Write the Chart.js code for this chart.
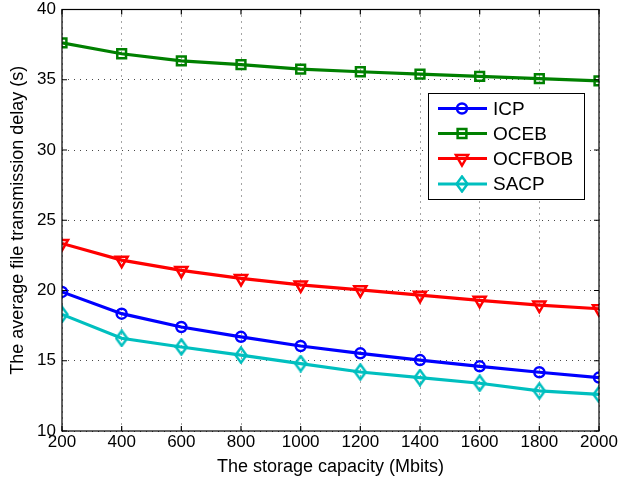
<!DOCTYPE html>
<html><head><meta charset="utf-8">
<script src="https://cdn.jsdelivr.net/npm/chart.js@4/dist/chart.umd.min.js"></script>
<style>html,body{margin:0;padding:0;background:#fff;}canvas{display:block;}</style>
</head><body>
<canvas id="c" width="621" height="487"></canvas>
<script>
const capacities = [200,400,600,800,1000,1200,1400,1600,1800,2000];
const icp    = [19.9,18.35,17.4,16.7,16.05,15.53,15.05,14.6,14.18,13.8];
const oceb   = [37.63,36.85,36.35,36.07,35.76,35.57,35.4,35.24,35.08,34.92];
const ocfbob = [23.35,22.16,21.43,20.86,20.4,20.05,19.67,19.3,18.96,18.7];
const sacp   = [18.3,16.6,15.98,15.4,14.8,14.2,13.8,13.4,12.85,12.6];
const xTicks = [200,400,600,800,1000,1200,1400,1600,1800,2000];
const yTicks = [10,15,20,25,30,35,40];

const FONT = '"Liberation Sans", Arial, sans-serif';

function diamond(color) {
  const c = document.createElement('canvas');
  c.width = 14; c.height = 18;
  const g = c.getContext('2d');
  g.strokeStyle = color; g.lineWidth = 2.5;
  g.beginPath(); g.moveTo(7, 1.5); g.lineTo(12.5, 9); g.lineTo(7, 16.5); g.lineTo(1.5, 9); g.closePath(); g.stroke();
  return c;
}

function ds(label, data, color, style, rot, r) {
  return {label, data: data.map((v,i)=>({x:capacities[i], y:v})), borderColor: color, backgroundColor: 'rgba(0,0,0,0)',
    borderWidth: 3.2, pointStyle: style, pointRotation: rot||0, pointRadius: r, pointBorderWidth: 2.5,
    pointBorderColor: color, pointBackgroundColor: 'rgba(0,0,0,0)', tension: 0};
}
const datasets = [
  ds('ICP', icp, '#0000ff', 'circle', 0, 5),
  ds('OCEB', oceb, '#008000', 'rect', 0, 6.2),
  ds('OCFBOB', ocfbob, '#ff0000', 'triangle', 180, 7),
  ds('SACP', sacp, '#00bfbf', diamond('#00bfbf'), 0, 7),
];

const frame = {
  id: 'frame',
  afterDraw(chart) {
    const ctx = chart.ctx, a = chart.chartArea;
    const xs = chart.scales.x, ys = chart.scales.y;
    ctx.save();
    ctx.strokeStyle = '#000'; ctx.lineWidth = 1.2;
    ctx.strokeRect(a.left, a.top, a.right - a.left, a.bottom - a.top);
    ctx.beginPath();
    const L = 5;
    xTicks.forEach(t => { const p = xs.getPixelForValue(t);
      ctx.moveTo(p, a.bottom); ctx.lineTo(p, a.bottom - L);
      ctx.moveTo(p, a.top); ctx.lineTo(p, a.top + L); });
    yTicks.forEach(t => { const p = ys.getPixelForValue(t);
      ctx.moveTo(a.left, p); ctx.lineTo(a.left + L, p);
      ctx.moveTo(a.right, p); ctx.lineTo(a.right - L, p); });
    ctx.stroke();
    // legend
    const bx = 428, by = 93, bw = 156, bh = 106;
    ctx.fillStyle = '#fff'; ctx.fillRect(bx, by, bw, bh);
    ctx.lineWidth = 1; ctx.strokeStyle = '#000'; ctx.strokeRect(bx+0.5, by+0.5, bw, bh);
    const rows = [108.5, 133.5, 158.5, 184];
    chart.data.datasets.forEach((d, i) => {
      const y = rows[i];
      ctx.strokeStyle = d.borderColor; ctx.lineWidth = 3.2;
      ctx.beginPath(); ctx.moveTo(438, y); ctx.lineTo(487, y); ctx.stroke();
      ctx.lineWidth = 2.5;
      ctx.fillStyle = 'rgba(0,0,0,0)';
      Chart.helpers.drawPoint(ctx, {pointStyle: d.pointStyle, rotation: d.pointRotation, radius: d.pointRadius, borderWidth: 2.5}, 462, y);
      ctx.fillStyle = '#000'; ctx.font = '19px ' + FONT; ctx.textBaseline = 'middle'; ctx.textAlign = 'left';
      ctx.fillText(d.label, 493, y + 1);
    });
    ctx.restore();
  }
};

new Chart(document.getElementById('c'), {
  type: 'line',
  data: { datasets },
  options: {
    responsive: false, animation: false,
    layout: { padding: { top: 8, right: 22, left: 0, bottom: 9 } },
    plugins: { legend: { display: false }, tooltip: { enabled: false } },
    scales: {
      x: { type: 'linear', min: 200, max: 2000,
        afterBuildTicks: s => { s.ticks = xTicks.map(v => ({value: v})); },
        afterFit: s => { s.height = 47; },
        grid: { color: 'rgba(40,40,40,0.85)', lineWidth: 1, drawTicks: false },
        border: { display: false, dash: [1,5] },
        ticks: { color: '#000', font: { family: FONT, size: 17 }, padding: 1, maxRotation: 0, autoSkip: false, callback: v => String(v) },
        title: { display: true, text: 'The storage capacity (Mbits)', color: '#000', font: { family: FONT, size: 18 }, padding: { top: 0, bottom: 0 } }
      },
      y: { type: 'linear', min: 10, max: 40,
        afterBuildTicks: s => { s.ticks = yTicks.map(v => ({value: v})); },
        afterFit: s => { s.width = 62; s.paddingTop = 0; s.paddingBottom = 0; },
        grid: { color: 'rgba(40,40,40,0.85)', lineWidth: 1, drawTicks: false },
        border: { display: false, dash: [1,5] },
        ticks: { color: '#000', font: { family: FONT, size: 17 }, padding: 6, callback: v => String(v) },
        title: { display: true, text: 'The average file transmission delay (s)', color: '#000', font: { family: FONT, size: 18 }, padding: { top: 7, bottom: 0 } }
      }
    }
  },
  plugins: [frame]
});
</script>
</body></html>
